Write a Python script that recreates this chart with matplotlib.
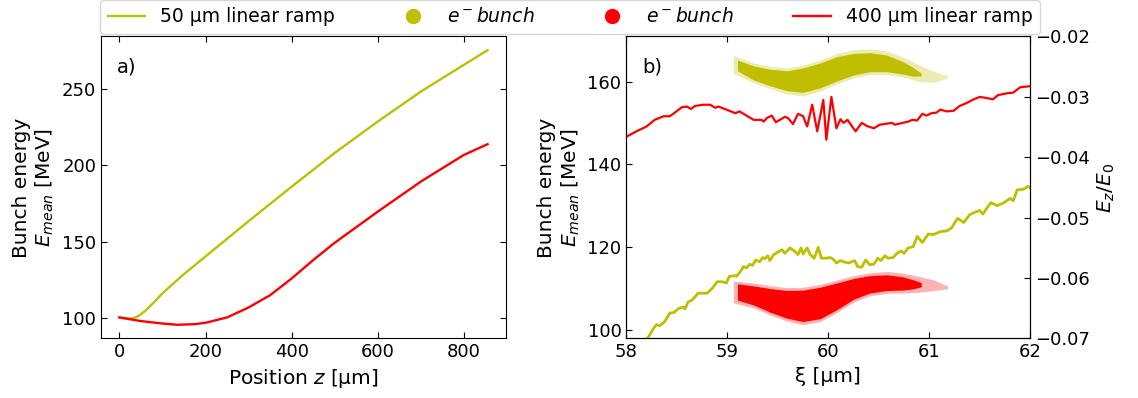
import numpy as np
import matplotlib.pyplot as plt
from matplotlib.lines import Line2D
from matplotlib.ticker import MultipleLocator

# a) mean bunch energy along the propagation direction
z_50 = [0, 15, 30, 40, 50, 60, 80, 100, 150, 200, 300, 400, 500, 600, 700, 800, 855]
e_50 = [100.5, 100.0, 100.1, 101.0, 102.8, 105.0, 110.5, 116.5, 129.0, 140.5, 163.5,
        186.0, 208.0, 228.5, 248.0, 265.5, 275.0]
z_400 = [0, 50, 100, 135, 175, 200, 250, 300, 350, 400, 450, 500, 600, 700, 800, 855]
e_400 = [100.7, 98.3, 96.7, 95.9, 96.3, 97.2, 100.7, 107.2, 115.2, 126.1, 138.1,
         149.4, 169.7, 189.3, 206.7, 213.7]

# b) longitudinal field Ez/E0 along xi, 400 um ramp
xi_400 = [58.00, 58.10, 58.20, 58.28, 58.37, 58.43, 58.48, 58.55, 58.60, 58.64,
          58.68, 58.76, 58.83, 58.88, 58.91, 58.99, 59.08, 59.12, 59.18, 59.26,
          59.34, 59.36, 59.39, 59.44, 59.48, 59.57, 59.60, 59.65, 59.70, 59.75,
          59.79, 59.84, 59.89, 59.95, 59.98, 60.03, 60.08, 60.12, 60.15, 60.19,
          60.24, 60.27, 60.33, 60.38, 60.45, 60.51, 60.63, 60.66, 60.76, 60.79,
          60.83, 60.88, 60.93, 60.97, 61.02, 61.07, 61.11, 61.17, 61.24, 61.30,
          61.37, 61.44, 61.50, 61.57, 61.63, 61.68, 61.77, 61.83, 61.90, 61.96,
          62.00]
ez_400 = [-0.0366, -0.0357, -0.0349, -0.0338, -0.0332, -0.0332, -0.0326, -0.0317,
          -0.0316, -0.0320, -0.0315, -0.0313, -0.0313, -0.0318, -0.0316, -0.0321,
          -0.0327, -0.0324, -0.0330, -0.0338, -0.0338, -0.0341, -0.0335, -0.0331,
          -0.0342, -0.0333, -0.0335, -0.0345, -0.0328, -0.0332, -0.0349, -0.0313,
          -0.0357, -0.0305, -0.0371, -0.0300, -0.0352, -0.0337, -0.0343, -0.0338,
          -0.0350, -0.0357, -0.0343, -0.0348, -0.0352, -0.0346, -0.0343, -0.0346,
          -0.0342, -0.0341, -0.0338, -0.0339, -0.0328, -0.0331, -0.0327, -0.0326,
          -0.0321, -0.0324, -0.0323, -0.0315, -0.0310, -0.0304, -0.0300, -0.0302,
          -0.0304, -0.0297, -0.0294, -0.0293, -0.0284, -0.0283, -0.0282]

# b) longitudinal field Ez/E0 along xi, 50 um ramp
xi_50 = [58.00, 58.10, 58.22, 58.27, 58.30, 58.33, 58.38, 58.43, 58.47, 58.52,
         58.56, 58.58, 58.61, 58.66, 58.71, 58.76, 58.80, 58.85, 58.90, 58.95,
         58.99, 59.02, 59.08, 59.09, 59.13, 59.16, 59.19, 59.22, 59.25, 59.28,
         59.32, 59.35, 59.37, 59.40, 59.42, 59.46, 59.51, 59.54, 59.57, 59.62,
         59.67, 59.70, 59.73, 59.75, 59.79, 59.82, 59.86, 59.90, 59.93, 59.98,
         60.02, 60.05, 60.08, 60.12, 60.17, 60.20, 60.23, 60.26, 60.29, 60.33,
         60.37, 60.41, 60.45, 60.49, 60.52, 60.56, 60.59, 60.64, 60.68, 60.72,
         60.75, 60.79, 60.84, 60.88, 60.93, 60.99, 61.04, 61.11, 61.17, 61.22,
         61.28, 61.34, 61.40, 61.45, 61.50, 61.53, 61.57, 61.61, 61.67, 61.73,
         61.80, 61.83, 61.87, 61.93, 61.98, 62.00]
ez_50 = [-0.0737, -0.0719, -0.0697, -0.0683, -0.0677, -0.0679, -0.0672, -0.0658,
         -0.0657, -0.0650, -0.0648, -0.0651, -0.0640, -0.0635, -0.0625, -0.0625,
         -0.0625, -0.0617, -0.0606, -0.0606, -0.0608, -0.0597, -0.0596, -0.0597,
         -0.0589, -0.0581, -0.0583, -0.0577, -0.0579, -0.0570, -0.0573, -0.0566,
         -0.0568, -0.0563, -0.0571, -0.0561, -0.0556, -0.0553, -0.0559, -0.0550,
         -0.0556, -0.0561, -0.0550, -0.0560, -0.0550, -0.0561, -0.0567, -0.0549,
         -0.0567, -0.0567, -0.0566, -0.0569, -0.0575, -0.0571, -0.0574, -0.0575,
         -0.0573, -0.0571, -0.0581, -0.0582, -0.0570, -0.0578, -0.0577, -0.0567,
         -0.0571, -0.0563, -0.0567, -0.0566, -0.0559, -0.0555, -0.0559, -0.0550,
         -0.0548, -0.0531, -0.0541, -0.0527, -0.0528, -0.0523, -0.0522, -0.0517,
         -0.0501, -0.0508, -0.0495, -0.0491, -0.0488, -0.0494, -0.0484, -0.0475,
         -0.0480, -0.0476, -0.0468, -0.0472, -0.0454, -0.0453, -0.0448, -0.0451]

# bunch phase space envelopes (dense core and sparse halo), energy in MeV
xi_bunch = [59.10, 59.26, 59.42, 59.59, 59.75, 59.92, 60.08, 60.25, 60.41, 60.58,
            60.74, 60.84, 60.92]
e50_core_hi = [165.2, 163.8, 163.0, 162.6, 163.3, 164.5, 166.0, 166.8, 167.0, 166.4,
               164.8, 163.4, 162.0]
e50_core_lo = [162.6, 160.4, 159.0, 157.8, 157.4, 158.5, 160.1, 161.6, 162.4, 162.4,
               161.8, 161.3, 161.4]
e400_core_hi = [111.1, 110.6, 110.0, 109.5, 109.6, 110.3, 111.3, 112.4, 113.1, 113.3,
                112.8, 112.1, 111.4]
e400_core_lo = [107.2, 106.0, 104.3, 102.8, 102.0, 102.7, 104.8, 107.4, 108.9, 109.5,
                109.6, 109.9, 110.4]
xi_halo = [59.06, 59.26, 59.42, 59.59, 59.75, 59.92, 60.08, 60.25, 60.41, 60.58,
           60.74, 60.90, 61.05, 61.18]
e50_halo_hi = [166.3, 164.5, 163.7, 163.3, 164.0, 165.2, 166.8, 167.7, 167.9, 167.4,
               165.9, 164.0, 162.4, 161.4]
e50_halo_lo = [162.0, 159.7, 158.3, 157.0, 156.5, 157.7, 159.4, 160.9, 161.7, 161.7,
               161.1, 160.0, 159.8, 160.9]
e400_halo_hi = [111.8, 111.3, 110.7, 110.2, 110.3, 111.0, 112.0, 113.1, 113.8, 114.1,
                113.7, 112.9, 112.0, 110.6]
e400_halo_lo = [106.5, 105.3, 103.6, 102.1, 101.2, 102.0, 104.1, 106.7, 108.2, 108.8,
                108.9, 109.1, 109.5, 109.9]

labels = ['50 µm linear ramp', '$e^-bunch$', '$e^-bunch$', '400 µm linear ramp']

plt.rcParams['font.size'] = 13
plt.rcParams['axes.labelsize'] = 14.5
plt.rcParams['xtick.direction'] = 'in'
plt.rcParams['ytick.direction'] = 'in'
plt.rcParams['xtick.major.size'] = 4.5
plt.rcParams['ytick.major.size'] = 4.5

fig = plt.figure(figsize=(11.38, 3.98), dpi=100)
ax_a = fig.add_axes([0.0888, 0.1495, 0.3558, 0.7588])
ax_b = fig.add_axes([0.5504, 0.1495, 0.3550, 0.7588])

ax_a.plot(z_50, e_50, color='y', lw=1.7)
ax_a.plot(z_400, e_400, color='r', lw=1.7)
ax_a.yaxis.set_major_locator(MultipleLocator(50))
ax_a.set_xlabel('Position $z$ [µm]')
ax_a.set_ylabel('Bunch energy\n$E_{mean}$ [MeV]')
ax_a.tick_params(top=True, right=True)
ax_a.text(0.04, 0.93, 'a)', transform=ax_a.transAxes, fontsize=14, va='top')

# particle clouds: faint halo underneath a solid core
ax_b.fill_between(xi_halo, e50_halo_lo, e50_halo_hi, color='y', alpha=0.3, lw=0)
ax_b.fill_between(xi_bunch, e50_core_lo, e50_core_hi, color='y', lw=0)
ax_b.fill_between(xi_halo, e400_halo_lo, e400_halo_hi, color='r', alpha=0.3, lw=0)
ax_b.fill_between(xi_bunch, e400_core_lo, e400_core_hi, color='r', lw=0)
ax_b.set_xlim(58, 62)
ax_b.set_ylim(97.9, 170.9)
ax_b.set_xticks([58, 59, 60, 61, 62])
ax_b.yaxis.set_major_locator(MultipleLocator(20))
ax_b.set_xlabel('ξ [µm]')
ax_b.set_ylabel('Bunch energy\n$E_{mean}$ [MeV]')
ax_b.tick_params(top=True)
ax_b.text(0.04, 0.93, 'b)', transform=ax_b.transAxes, fontsize=14, va='top')

ax_r = ax_b.twinx()
ax_r.plot(xi_50, ez_50, color='y', lw=2.0)
ax_r.plot(xi_400, ez_400, color='r', lw=1.6)
ax_r.set_ylim(-0.07, -0.02)
ax_r.set_ylabel('$E_z/E_0$')
ax_r.tick_params(direction='in')

handles = [
    Line2D([], [], color='y', lw=1.7),
    Line2D([], [], color='y', ls='none', marker='o', markersize=10),
    Line2D([], [], color='r', ls='none', marker='o', markersize=10),
    Line2D([], [], color='r', lw=1.7),
]
fig.legend(handles, labels, loc='upper left', ncol=4, mode='expand',
           bbox_to_anchor=(0.0879, 0.0, 0.826, 1.0), borderaxespad=0.0,
           fontsize=13.5)

fig.savefig('out.png', dpi=100)
